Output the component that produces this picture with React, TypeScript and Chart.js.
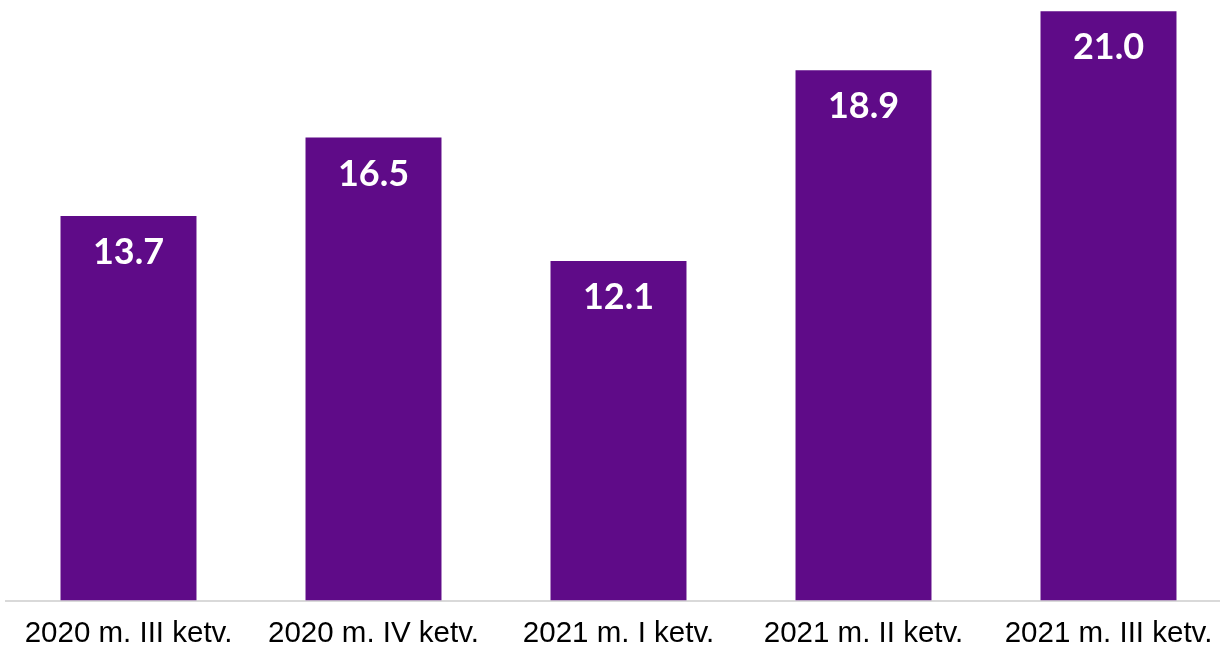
import React, { useEffect, useRef } from "react";
import { Chart, registerables } from "chart.js";

Chart.register(...registerables);

const categories = ["2020 m. III ketv.", "2020 m. IV ketv.", "2021 m. I ketv.", "2021 m. II ketv.", "2021 m. III ketv."];
const values = [13.7, 16.5, 12.1, 18.9, 21.0];

const valueLabels = {
  id: "valueLabels",
  afterDatasetsDraw(chart: any) {
    const ctx = chart.ctx;
    const meta = chart.getDatasetMeta(0);
    ctx.save();
    ctx.fillStyle = "#ffffff";
    ctx.font = "bold 36px Lato";
    ctx.textAlign = "center";
    ctx.textBaseline = "alphabetic";
    meta.data.forEach((bar: any, i: number) => {
      ctx.fillText(values[i].toFixed(1), bar.x, bar.y + 48);
    });
    ctx.restore();
  },
};

export default function App() {
  const ref = useRef<HTMLCanvasElement | null>(null);
  useEffect(() => {
    if (!ref.current) return;
    const chart = new Chart(ref.current, {
      type: "bar",
      data: {
        labels: categories,
        datasets: [
          {
            data: values,
            backgroundColor: "#5f0b88",
            categoryPercentage: 1,
            barPercentage: 0.555,
          },
        ],
      },
      options: {
        animation: false,
        responsive: true,
        maintainAspectRatio: false,
        layout: { padding: { left: 6, right: 0, top: 0, bottom: 0 } },
        plugins: { legend: { display: false }, tooltip: { enabled: false } },
        scales: {
          y: { display: false, min: 0, max: 21.4 },
          x: {
            grid: { display: false, drawTicks: false },
            border: { display: true, color: "#d9d9d9", width: 2 },
            ticks: {
              color: "#000000",
              padding: 16,
              maxRotation: 0,
              autoSkip: false,
              font: { family: "'Liberation Sans', Arial, sans-serif", size: 29.5 },
            },
          },
        },
      },
      plugins: [valueLabels],
    });
    return () => chart.destroy();
  }, []);
  return (
    <div style={{ position: "fixed", left: 0, top: 0, width: 1231, height: 668, background: "#fff" }}>
      <canvas ref={ref} />
    </div>
  );
}
